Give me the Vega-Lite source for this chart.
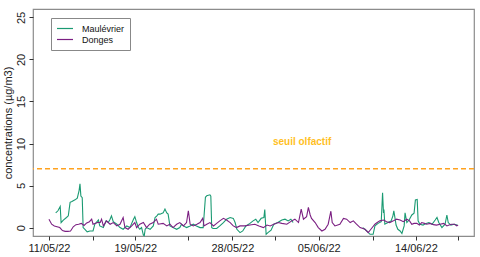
{
"$schema": "https://vega.github.io/schema/vega-lite/v6.json",
"width": 441, "height": 227,
"autosize": {"type": "none"},
"padding": {"left": 33, "top": 9, "right": 6, "bottom": 21},
"background": "white",
"config": {"view": {"stroke": "#8c8c8c", "strokeWidth": 1.2}, "font": "Liberation Sans"},
"datasets": {
"maulevrier": [
{"t":"2022-05-11T15:00Z","v":1.75,"seg":1},{"t":"2022-05-11T20:00Z","v":2.0,"seg":1},{"t":"2022-05-12T01:00Z","v":2.5,"seg":1},{"t":"2022-05-12T03:00Z","v":0.6,"seg":1},{"t":"2022-05-12T08:00Z","v":0.9,"seg":1},{"t":"2022-05-12T15:00Z","v":1.2,"seg":1},{"t":"2022-05-12T19:00Z","v":1.4,"seg":1},{"t":"2022-05-12T23:00Z","v":3.0,"seg":1},{"t":"2022-05-13T03:00Z","v":3.1,"seg":1},{"t":"2022-05-13T10:00Z","v":3.3,"seg":1},{"t":"2022-05-13T15:00Z","v":3.5,"seg":1},{"t":"2022-05-13T19:00Z","v":4.4,"seg":1},{"t":"2022-05-13T21:00Z","v":5.2,"seg":1},{"t":"2022-05-13T23:00Z","v":3.75,"seg":1},{"t":"2022-05-14T02:00Z","v":3.55,"seg":1},{"t":"2022-05-14T04:00Z","v":0.0,"seg":1},{"t":"2022-05-14T08:00Z","v":-0.2,"seg":1},{"t":"2022-05-14T13:00Z","v":-0.5,"seg":1},{"t":"2022-05-14T19:00Z","v":-0.4,"seg":1},{"t":"2022-05-15T02:00Z","v":-0.4,"seg":1},{"t":"2022-05-15T06:00Z","v":0.4,"seg":1},{"t":"2022-05-15T14:00Z","v":0.9,"seg":1},{"t":"2022-05-15T17:00Z","v":0.2,"seg":1},{"t":"2022-05-16T01:00Z","v":0.0,"seg":1},{"t":"2022-05-16T07:00Z","v":0.8,"seg":1},{"t":"2022-05-16T12:00Z","v":0.6,"seg":1},{"t":"2022-05-16T16:00Z","v":1.0,"seg":1},{"t":"2022-05-16T19:00Z","v":1.4,"seg":1},{"t":"2022-05-16T23:00Z","v":0.7,"seg":1},{"t":"2022-05-17T07:00Z","v":0.4,"seg":1},{"t":"2022-05-17T14:00Z","v":0.0,"seg":1},{"t":"2022-05-17T21:00Z","v":-0.2,"seg":1},{"t":"2022-05-18T05:00Z","v":0.2,"seg":1},{"t":"2022-05-18T12:00Z","v":0.0,"seg":1},{"t":"2022-05-18T20:00Z","v":1.0,"seg":1},{"t":"2022-05-18T23:00Z","v":1.3,"seg":1},{"t":"2022-05-19T03:00Z","v":0.6,"seg":1},{"t":"2022-05-19T07:00Z","v":0.0,"seg":1},{"t":"2022-05-19T10:00Z","v":-0.2,"seg":1},{"t":"2022-05-19T14:00Z","v":0.0,"seg":1},{"t":"2022-05-19T18:00Z","v":-0.9,"seg":1},{"t":"2022-05-19T20:00Z","v":-0.95,"seg":1},{"t":"2022-05-19T22:00Z","v":-0.2,"seg":1},{"t":"2022-05-20T01:00Z","v":0.0,"seg":1},{"t":"2022-05-20T09:00Z","v":-0.2,"seg":1},{"t":"2022-05-20T16:00Z","v":0.2,"seg":1},{"t":"2022-05-20T20:00Z","v":1.2,"seg":1},{"t":"2022-05-21T00:00Z","v":1.4,"seg":1},{"t":"2022-05-21T03:00Z","v":1.6,"seg":1},{"t":"2022-05-21T07:00Z","v":1.6,"seg":1},{"t":"2022-05-21T14:00Z","v":1.75,"seg":1},{"t":"2022-05-21T18:00Z","v":2.2,"seg":1},{"t":"2022-05-21T22:00Z","v":1.75,"seg":1},{"t":"2022-05-22T01:00Z","v":1.6,"seg":1},{"t":"2022-05-22T05:00Z","v":0.2,"seg":1},{"t":"2022-05-22T12:00Z","v":0.0,"seg":1},{"t":"2022-05-22T20:00Z","v":-0.2,"seg":1},{"t":"2022-05-23T03:00Z","v":0.0,"seg":1},{"t":"2022-05-23T07:00Z","v":0.4,"seg":1},{"t":"2022-05-23T11:00Z","v":0.2,"seg":1},{"t":"2022-05-23T18:00Z","v":0.0,"seg":1},{"t":"2022-05-24T02:00Z","v":0.2,"seg":1},{"t":"2022-05-24T09:00Z","v":0.4,"seg":1},{"t":"2022-05-24T16:00Z","v":0.2,"seg":1},{"t":"2022-05-25T00:00Z","v":0.0,"seg":1},{"t":"2022-05-25T07:00Z","v":0.0,"seg":1},{"t":"2022-05-25T12:00Z","v":3.6,"seg":1},{"t":"2022-05-25T15:00Z","v":3.8,"seg":1},{"t":"2022-05-25T22:00Z","v":3.9,"seg":1},{"t":"2022-05-26T00:00Z","v":3.75,"seg":1},{"t":"2022-05-26T02:00Z","v":0.0,"seg":1},{"t":"2022-05-26T05:00Z","v":-0.1,"seg":1},{"t":"2022-05-26T13:00Z","v":-0.1,"seg":1},{"t":"2022-05-26T20:00Z","v":0.2,"seg":1},{"t":"2022-05-27T04:00Z","v":0.6,"seg":1},{"t":"2022-05-27T11:00Z","v":1.0,"seg":1},{"t":"2022-05-27T19:00Z","v":1.2,"seg":1},{"t":"2022-05-28T02:00Z","v":1.1,"seg":1},{"t":"2022-05-28T06:00Z","v":0.6,"seg":1},{"t":"2022-05-28T10:00Z","v":-0.2,"seg":1},{"t":"2022-05-28T17:00Z","v":-0.6,"seg":1},{"t":"2022-05-28T23:00Z","v":-0.4,"seg":1},{"t":"2022-05-29T06:00Z","v":0.2,"seg":1},{"t":"2022-05-29T15:00Z","v":0.5,"seg":1},{"t":"2022-05-29T22:00Z","v":0.8,"seg":1},{"t":"2022-05-30T04:00Z","v":1.0,"seg":1},{"t":"2022-05-30T09:00Z","v":0.6,"seg":1},{"t":"2022-05-30T16:00Z","v":1.1,"seg":1},{"t":"2022-05-30T22:00Z","v":1.2,"seg":1},{"t":"2022-05-31T00:00Z","v":2.15,"seg":1},{"t":"2022-05-31T03:00Z","v":-0.8,"seg":1},{"t":"2022-05-31T07:00Z","v":-0.6,"seg":1},{"t":"2022-05-31T14:00Z","v":-0.3,"seg":1},{"t":"2022-05-31T20:00Z","v":0.4,"seg":1},{"t":"2022-06-01T05:00Z","v":0.6,"seg":1},{"t":"2022-06-01T14:00Z","v":0.9,"seg":1},{"t":"2022-06-01T21:00Z","v":1.0,"seg":1},{"t":"2022-06-02T04:00Z","v":0.8,"seg":1},{"t":"2022-06-02T10:00Z","v":1.0,"seg":1},{"t":"2022-06-02T15:00Z","v":0.6,"seg":1},
{"t":"2022-06-09T02:00Z","v":0.0,"seg":2},{"t":"2022-06-09T11:00Z","v":-0.4,"seg":2},{"t":"2022-06-09T18:00Z","v":-0.8,"seg":2},{"t":"2022-06-10T01:00Z","v":-0.8,"seg":2},{"t":"2022-06-10T05:00Z","v":0.2,"seg":2},{"t":"2022-06-10T12:00Z","v":0.5,"seg":2},{"t":"2022-06-10T19:00Z","v":0.7,"seg":2},{"t":"2022-06-10T22:00Z","v":4.15,"seg":2},{"t":"2022-06-11T00:00Z","v":1.75,"seg":2},{"t":"2022-06-11T01:00Z","v":2.15,"seg":2},{"t":"2022-06-11T03:00Z","v":0.4,"seg":2},{"t":"2022-06-11T10:00Z","v":0.6,"seg":2},{"t":"2022-06-11T17:00Z","v":0.8,"seg":2},{"t":"2022-06-11T21:00Z","v":1.4,"seg":2},{"t":"2022-06-11T23:00Z","v":2.0,"seg":2},{"t":"2022-06-12T02:00Z","v":1.0,"seg":2},{"t":"2022-06-12T04:00Z","v":0.3,"seg":2},{"t":"2022-06-12T08:00Z","v":-0.2,"seg":2},{"t":"2022-06-12T13:00Z","v":-0.4,"seg":2},{"t":"2022-06-12T17:00Z","v":-0.7,"seg":2},{"t":"2022-06-12T22:00Z","v":0.2,"seg":2},{"t":"2022-06-13T00:00Z","v":1.75,"seg":2},{"t":"2022-06-13T04:00Z","v":0.6,"seg":2},{"t":"2022-06-13T09:00Z","v":0.9,"seg":2},{"t":"2022-06-13T15:00Z","v":1.5,"seg":2},{"t":"2022-06-13T20:00Z","v":1.7,"seg":2},{"t":"2022-06-13T23:00Z","v":3.3,"seg":2},{"t":"2022-06-14T03:00Z","v":3.35,"seg":2},{"t":"2022-06-14T05:00Z","v":0.8,"seg":2},{"t":"2022-06-14T09:00Z","v":0.4,"seg":2},{"t":"2022-06-14T16:00Z","v":0.3,"seg":2},{"t":"2022-06-14T23:00Z","v":0.5,"seg":2},{"t":"2022-06-15T05:00Z","v":0.6,"seg":2},{"t":"2022-06-15T12:00Z","v":0.4,"seg":2},{"t":"2022-06-15T19:00Z","v":0.9,"seg":2},{"t":"2022-06-15T23:00Z","v":1.2,"seg":2},{"t":"2022-06-16T03:00Z","v":0.6,"seg":2},{"t":"2022-06-16T10:00Z","v":0.0,"seg":2},{"t":"2022-06-16T17:00Z","v":0.4,"seg":2},{"t":"2022-06-16T21:00Z","v":1.5,"seg":2},{"t":"2022-06-17T00:00Z","v":0.6,"seg":2},{"t":"2022-06-17T06:00Z","v":0.3,"seg":2},{"t":"2022-06-17T13:00Z","v":0.4,"seg":2},{"t":"2022-06-17T20:00Z","v":0.3,"seg":2}
],
"donges": [
{"t":"2022-05-11T00:00Z","v":1.0},{"t":"2022-05-11T06:00Z","v":0.4},{"t":"2022-05-11T12:00Z","v":0.2},{"t":"2022-05-11T18:00Z","v":0.1},{"t":"2022-05-12T00:00Z","v":0.0},{"t":"2022-05-12T06:00Z","v":-0.35},{"t":"2022-05-12T12:00Z","v":-0.45},{"t":"2022-05-12T18:00Z","v":-0.45},{"t":"2022-05-13T00:00Z","v":-0.4},{"t":"2022-05-13T06:00Z","v":0.1},{"t":"2022-05-13T12:00Z","v":0.35},{"t":"2022-05-13T18:00Z","v":0.4},{"t":"2022-05-14T00:00Z","v":0.5},{"t":"2022-05-14T06:00Z","v":0.25},{"t":"2022-05-14T12:00Z","v":0.55},{"t":"2022-05-14T18:00Z","v":0.7},{"t":"2022-05-14T23:00Z","v":1.0},{"t":"2022-05-15T02:00Z","v":0.4},{"t":"2022-05-15T12:00Z","v":0.6},{"t":"2022-05-15T18:00Z","v":0.6},{"t":"2022-05-15T21:00Z","v":1.0},{"t":"2022-05-16T01:00Z","v":0.2},{"t":"2022-05-16T08:00Z","v":0.8},{"t":"2022-05-16T16:00Z","v":0.4},{"t":"2022-05-16T23:00Z","v":0.6},{"t":"2022-05-17T07:00Z","v":0.2},{"t":"2022-05-17T14:00Z","v":0.4},{"t":"2022-05-17T21:00Z","v":1.2},{"t":"2022-05-18T01:00Z","v":0.0},{"t":"2022-05-18T08:00Z","v":-0.2},{"t":"2022-05-18T16:00Z","v":0.2},{"t":"2022-05-18T23:00Z","v":0.6},{"t":"2022-05-19T03:00Z","v":0.0},{"t":"2022-05-19T10:00Z","v":0.4},{"t":"2022-05-19T18:00Z","v":0.6},{"t":"2022-05-20T01:00Z","v":0.0},{"t":"2022-05-20T08:00Z","v":0.4},{"t":"2022-05-20T16:00Z","v":0.6},{"t":"2022-05-20T23:00Z","v":1.0},{"t":"2022-05-21T03:00Z","v":0.4},{"t":"2022-05-21T14:00Z","v":0.5},{"t":"2022-05-21T22:00Z","v":0.2},{"t":"2022-05-22T05:00Z","v":0.4},{"t":"2022-05-22T12:00Z","v":0.0},{"t":"2022-05-22T20:00Z","v":0.4},{"t":"2022-05-23T03:00Z","v":0.6},{"t":"2022-05-23T11:00Z","v":0.2},{"t":"2022-05-23T18:00Z","v":0.6},{"t":"2022-05-23T22:00Z","v":2.0},{"t":"2022-05-24T02:00Z","v":0.4},{"t":"2022-05-24T09:00Z","v":0.2},{"t":"2022-05-24T17:00Z","v":0.4},{"t":"2022-05-25T00:00Z","v":0.6},{"t":"2022-05-25T06:00Z","v":1.1},{"t":"2022-05-25T09:00Z","v":0.2},{"t":"2022-05-25T15:00Z","v":0.4},{"t":"2022-05-25T22:00Z","v":0.6},{"t":"2022-05-26T06:00Z","v":0.2},{"t":"2022-05-26T13:00Z","v":0.5},{"t":"2022-05-26T20:00Z","v":0.8},{"t":"2022-05-27T04:00Z","v":1.1},{"t":"2022-05-27T11:00Z","v":0.9},{"t":"2022-05-27T19:00Z","v":0.6},{"t":"2022-05-28T02:00Z","v":0.2},{"t":"2022-05-28T09:00Z","v":0.0},{"t":"2022-05-28T17:00Z","v":0.2},{"t":"2022-05-29T04:00Z","v":0.2},{"t":"2022-05-29T15:00Z","v":0.3},{"t":"2022-05-30T02:00Z","v":0.4},{"t":"2022-05-30T11:00Z","v":0.2},{"t":"2022-05-30T21:00Z","v":0.0},{"t":"2022-05-31T05:00Z","v":0.3},{"t":"2022-05-31T12:00Z","v":0.2},{"t":"2022-05-31T20:00Z","v":0.4},{"t":"2022-06-01T06:00Z","v":0.6},{"t":"2022-06-01T14:00Z","v":0.5},{"t":"2022-06-02T01:00Z","v":0.4},{"t":"2022-06-02T12:00Z","v":0.8},{"t":"2022-06-02T19:00Z","v":1.0},{"t":"2022-06-03T03:00Z","v":0.6},{"t":"2022-06-03T09:00Z","v":2.2},{"t":"2022-06-03T14:00Z","v":1.0},{"t":"2022-06-03T21:00Z","v":1.3},{"t":"2022-06-04T01:00Z","v":2.4},{"t":"2022-06-04T05:00Z","v":1.5},{"t":"2022-06-04T08:00Z","v":1.1},{"t":"2022-06-04T16:00Z","v":0.6},{"t":"2022-06-04T23:00Z","v":0.0},{"t":"2022-06-05T07:00Z","v":-0.4},{"t":"2022-06-05T14:00Z","v":-0.2},{"t":"2022-06-05T21:00Z","v":0.4},{"t":"2022-06-06T03:00Z","v":1.95},{"t":"2022-06-06T06:00Z","v":0.6},{"t":"2022-06-06T12:00Z","v":0.2},{"t":"2022-06-06T23:00Z","v":0.4},{"t":"2022-06-07T07:00Z","v":1.1},{"t":"2022-06-07T14:00Z","v":1.0},{"t":"2022-06-07T22:00Z","v":0.6},{"t":"2022-06-08T05:00Z","v":0.8},{"t":"2022-06-08T12:00Z","v":0.4},{"t":"2022-06-08T20:00Z","v":0.0},{"t":"2022-06-09T07:00Z","v":-0.2},{"t":"2022-06-09T14:00Z","v":-0.6},{"t":"2022-06-09T20:00Z","v":-0.2},{"t":"2022-06-10T05:00Z","v":0.4},{"t":"2022-06-10T10:00Z","v":0.6},{"t":"2022-06-10T16:00Z","v":0.8},{"t":"2022-06-11T00:00Z","v":0.9},{"t":"2022-06-11T07:00Z","v":0.7},{"t":"2022-06-11T14:00Z","v":0.6},{"t":"2022-06-11T22:00Z","v":0.8},{"t":"2022-06-12T05:00Z","v":1.0},{"t":"2022-06-12T13:00Z","v":0.9},{"t":"2022-06-12T20:00Z","v":0.7},{"t":"2022-06-13T04:00Z","v":1.0},{"t":"2022-06-13T10:00Z","v":0.8},{"t":"2022-06-13T15:00Z","v":0.4},{"t":"2022-06-13T20:00Z","v":0.5},{"t":"2022-06-14T02:00Z","v":0.5},{"t":"2022-06-14T08:00Z","v":0.3},{"t":"2022-06-14T13:00Z","v":0.6},{"t":"2022-06-14T19:00Z","v":0.5},{"t":"2022-06-15T00:00Z","v":0.4},{"t":"2022-06-15T08:00Z","v":0.5},{"t":"2022-06-15T15:00Z","v":0.35},{"t":"2022-06-15T22:00Z","v":0.3},{"t":"2022-06-16T06:00Z","v":0.4},{"t":"2022-06-16T14:00Z","v":0.5},{"t":"2022-06-16T21:00Z","v":0.2},{"t":"2022-06-17T02:00Z","v":0.3},{"t":"2022-06-17T08:00Z","v":0.4},{"t":"2022-06-17T14:00Z","v":0.4},{"t":"2022-06-17T19:00Z","v":0.2},{"t":"2022-06-17T22:00Z","v":0.3}
],
"seuil": [{"v": 7}],
"annot": [{"t":"2022-06-03T11:00Z","v":10.2,"label":"seuil olfactif"}]
},
"layer": [
{
"data": {"name": "maulevrier"},
"mark": {"type": "line", "strokeWidth": 1.1},
"encoding": {
"x": {"field": "t", "type": "temporal",
"scale": {"type": "utc", "domain": [{"year":2022,"month":5,"date":9,"hours":12,"minutes":30,"utc":true},{"year":2022,"month":6,"date":19,"hours":9,"minutes":20,"utc":true}]},
"axis": {"title": null, "grid": false, "domain": false, "tickSize": 4, "tickColor": "#333333",
"values": [{"year":2022,"month":5,"date":11,"hours":0,"utc":true},{"year":2022,"month":5,"date":15,"hours":2,"utc":true},{"year":2022,"month":5,"date":19,"hours":0,"utc":true},{"year":2022,"month":5,"date":23,"hours":21,"utc":true},{"year":2022,"month":5,"date":28,"hours":0,"utc":true},{"year":2022,"month":5,"date":31,"hours":23,"utc":true},{"year":2022,"month":6,"date":5,"hours":0,"utc":true},{"year":2022,"month":6,"date":10,"hours":1,"utc":true},{"year":2022,"month":6,"date":14,"hours":0,"utc":true},{"year":2022,"month":6,"date":17,"hours":22,"utc":true}],
"labelExpr": "utchours(datum.value) == 0 ? utcFormat(datum.value, '%d/%m/%y') : ''",
"labelFontSize": 11, "labelColor": "#222222", "labelPadding": 2, "labelFlush": false, "labelOverlap": false}},
"y": {"field": "v", "type": "quantitative",
"scale": {"domain": [-1, 26], "nice": false, "zero": false},
"axis": {"title": "concentrations (µg/m3)", "grid": false, "domain": false, "values": [0,5,10,15,20,25],
"tickSize": 4, "tickColor": "#333333", "labelAngle": -90, "labelAlign": "center", "labelBaseline": "bottom",
"labelPadding": 3, "labelFontSize": 11, "labelColor": "#222222",
"titleFontSize": 11, "titleFontWeight": "normal", "titleColor": "#222222", "titlePadding": 2}},
"detail": {"field": "seg"},
"color": {"datum": "Maulévrier",
"scale": {"domain": ["Maulévrier", "Donges"], "range": ["#1A9A72", "#7B1F82"]},
"legend": {"orient": "none", "legendX": 18, "legendY": 9, "title": null, "symbolType": "stroke",
"symbolSize": 256, "symbolStrokeWidth": 1.2, "labelFontSize": 9, "labelColor": "#111111", "labelOffset": 8,
"strokeColor": "#888888", "fillColor": "white", "padding": 5, "clipHeight": 11, "rowPadding": 0}}
}
},
{
"data": {"name": "donges"},
"mark": {"type": "line", "strokeWidth": 1.1},
"encoding": {
"x": {"field": "t", "type": "temporal"},
"y": {"field": "v", "type": "quantitative"},
"color": {"datum": "Donges"}
}
},
{
"data": {"name": "seuil"},
"mark": {"type": "rule", "color": "#FFA21F", "strokeDash": [5, 3], "strokeWidth": 1.3},
"encoding": {"y": {"field": "v", "type": "quantitative"}}
},
{
"data": {"name": "annot"},
"mark": {"type": "text", "color": "#FFBF1F", "fontWeight": "bold", "fontSize": 10},
"encoding": {
"x": {"field": "t", "type": "temporal"},
"y": {"field": "v", "type": "quantitative"},
"text": {"field": "label"}
}
}
]
}
